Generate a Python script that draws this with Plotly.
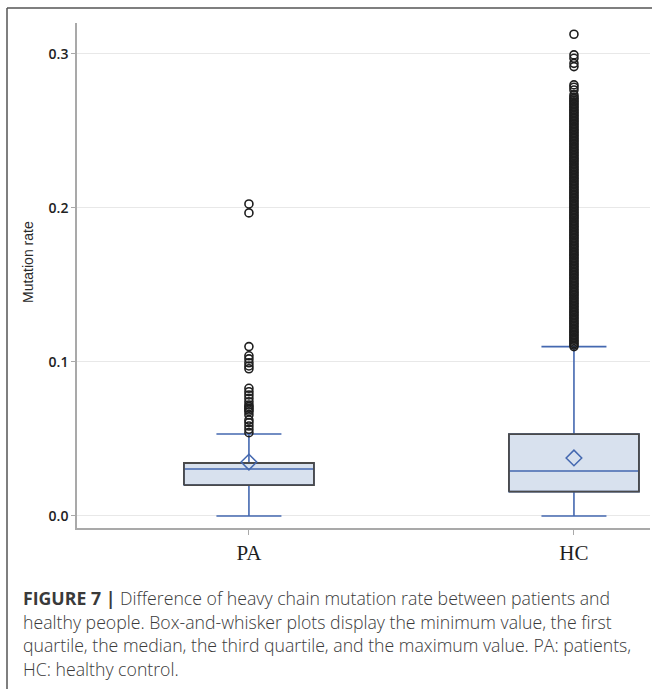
import plotly.graph_objects as go

# ---------------- data ----------------
CATEGORIES = ["PA", "HC"]
Q1 = [0.0201, 0.0158]
MEDIAN = [0.0305, 0.0292]
Q3 = [0.0344, 0.0532]
LOWER_WHISKER = [0.0, 0.0]
UPPER_WHISKER = [0.0532, 0.1100]
MEAN = [0.0350, 0.0377]

PA_OUTLIERS = [0.2026, 0.1968,
               0.1100, 0.1040, 0.1020, 0.0995, 0.0974, 0.0956,
               0.0829, 0.0807, 0.0786, 0.0764, 0.0742, 0.0721, 0.0710, 0.0699,
               0.0688, 0.0677, 0.0656, 0.0623, 0.0606, 0.0584, 0.0563, 0.0541]

HC_OUTLIERS = [
    0.110, 0.111, 0.112, 0.113, 0.114, 0.115, 0.116, 0.117, 0.118, 0.119,
    0.120, 0.121, 0.122, 0.123, 0.124, 0.125, 0.126, 0.127, 0.128, 0.129,
    0.130, 0.131, 0.132, 0.133, 0.134, 0.135, 0.136, 0.137, 0.138, 0.139,
    0.140, 0.141, 0.142, 0.143, 0.144, 0.145, 0.146, 0.147, 0.148, 0.149,
    0.150, 0.151, 0.152, 0.153, 0.154, 0.155, 0.156, 0.157, 0.158, 0.159,
    0.160, 0.161, 0.162, 0.163, 0.164, 0.165, 0.166, 0.167, 0.168, 0.169,
    0.170, 0.171, 0.172, 0.173, 0.174, 0.175, 0.176, 0.177, 0.178, 0.179,
    0.180, 0.181, 0.182, 0.183, 0.184, 0.185, 0.186, 0.187, 0.188, 0.189,
    0.190, 0.191, 0.192, 0.193, 0.194, 0.195, 0.196, 0.197, 0.198, 0.199,
    0.200, 0.201, 0.202, 0.203, 0.204, 0.205, 0.206, 0.207, 0.208, 0.209,
    0.210, 0.211, 0.212, 0.213, 0.214, 0.215, 0.216, 0.217, 0.218, 0.219,
    0.220, 0.221, 0.222, 0.223, 0.224, 0.225, 0.226, 0.227, 0.228, 0.229,
    0.230, 0.231, 0.232, 0.233, 0.234, 0.235, 0.236, 0.237, 0.238, 0.239,
    0.240, 0.241, 0.242, 0.243, 0.244, 0.245, 0.246, 0.247, 0.248, 0.249,
    0.250, 0.251, 0.252, 0.253, 0.254, 0.255, 0.256, 0.257, 0.258, 0.259,
    0.260, 0.261, 0.262, 0.263, 0.264, 0.265, 0.266, 0.267, 0.268, 0.269,
    0.270, 0.271, 0.272,
    0.2734, 0.2766, 0.2784, 0.2799,
    0.2918, 0.2939, 0.2972, 0.2994, 0.3128]

Y_TICKS = [0.0, 0.1, 0.2, 0.3]
Y_TICK_LABELS = ["0.0", "0.1", "0.2", "0.3"]

CAPTION = [
    "<b>FIGURE 7 |</b> Difference of heavy chain mutation rate between patients and",
    "healthy people. Box-and-whisker plots display the minimum value, the first",
    "quartile, the median, the third quartile, and the maximum value. PA: patients,",
    "HC: healthy control.",
]

# ---------------- style ----------------
W, H = 652, 689
ML, MR, MT, MB = 77, 2, 23, 161
PW, PH = W - ML - MR, H - MT - MB
BLUE = "#4468b0"
FILL = "#d8e1ee"
OUTLINE = "#4a4a4a"
AXIS = "#a9a9a9"
BOX_W = 0.4


def px_x(px):
    return (px - ML) / PW


def px_y(py):
    return (H - MB - py) / PH


fig = go.Figure()

for i, cat in enumerate(CATEGORIES):
    fig.add_trace(go.Box(
        x=[i], q1=[Q1[i]], median=[MEDIAN[i]], q3=[Q3[i]],
        lowerfence=[LOWER_WHISKER[i]], upperfence=[UPPER_WHISKER[i]],
        width=BOX_W, whiskerwidth=0.5, fillcolor=FILL,
        line=dict(color=BLUE, width=1.6), boxpoints=False,
        name=cat, hoverinfo="skip", showlegend=False))
    # gray box outline
    fig.add_trace(go.Scatter(
        x=[i - BOX_W / 2, i + BOX_W / 2, i + BOX_W / 2, i - BOX_W / 2, i - BOX_W / 2],
        y=[Q1[i], Q1[i], Q3[i], Q3[i], Q1[i]],
        mode="lines", line=dict(color=OUTLINE, width=1.8),
        hoverinfo="skip", showlegend=False))

fig.add_trace(go.Scatter(
    x=list(range(len(CATEGORIES))), y=MEAN, mode="markers",
    marker=dict(symbol="diamond-open", size=12, color=BLUE,
                line=dict(width=1.5, color=BLUE)),
    showlegend=False, hoverinfo="skip"))

for i, vals in enumerate([PA_OUTLIERS, HC_OUTLIERS]):
    fig.add_trace(go.Scatter(
        x=[i] * len(vals), y=vals, mode="markers",
        marker=dict(symbol="circle-open", size=8, color="#1e1e1e",
                    line=dict(width=1.6, color="#1e1e1e")),
        showlegend=False, hoverinfo="skip"))

annotations = [
    dict(text="Mutation rate", x=px_x(28), y=px_y(262), xref="paper", yref="paper",
         textangle=-90, showarrow=False, xanchor="center", yanchor="middle",
         font=dict(family="Liberation Sans, Arial", size=14, color="#2a2a2a")),
]
for k, line in enumerate(CAPTION):
    annotations.append(dict(
        text=line, x=px_x(21), y=px_y(598 + 23.5 * k), xref="paper", yref="paper",
        showarrow=False, xanchor="left", yanchor="middle",
        font=dict(family="Open Sans", size=17.7, color="#3a3a3a", weight=300)))

shapes = [
    dict(type="line", xref="paper", yref="paper", x0=px_x(7), x1=px_x(7),
         y0=px_y(8), y1=px_y(700), line=dict(color="#555555", width=1.5)),
    dict(type="line", xref="paper", yref="paper", x0=px_x(7), x1=px_x(660),
         y0=px_y(8), y1=px_y(8), line=dict(color="#555555", width=1.5)),
]

fig.update_layout(
    width=W, height=H,
    margin=dict(l=ML, r=MR, t=MT, b=MB),
    paper_bgcolor="white", plot_bgcolor="white",
    showlegend=False,
    annotations=annotations, shapes=shapes,
    xaxis=dict(range=[-0.529, 1.234], tickmode="array",
               tickvals=list(range(len(CATEGORIES))), ticktext=CATEGORIES,
               showline=True, linecolor=AXIS, linewidth=1.5, mirror=False,
               ticks="outside", ticklen=5, tickcolor=AXIS, tickwidth=1,
               showgrid=False, zeroline=False,
               tickfont=dict(family="Liberation Serif, Times New Roman", size=21,
                             color="#1e1e1e")),
    yaxis=dict(range=[-0.0078, 0.3201], tickmode="array",
               tickvals=Y_TICKS, ticktext=Y_TICK_LABELS,
               showline=True, linecolor=AXIS, linewidth=1.5,
               ticks="outside", ticklen=4, tickcolor=AXIS, tickwidth=1,
               showgrid=True, gridcolor="#e8e8e8", gridwidth=1.3, zeroline=False,
               tickfont=dict(family="Open Sans", size=14, weight=600,
                             color="#222222")),
)

fig.write_html("out.html", config={"displayModeBar": False},
               post_script="document.body.style.margin='0';")
